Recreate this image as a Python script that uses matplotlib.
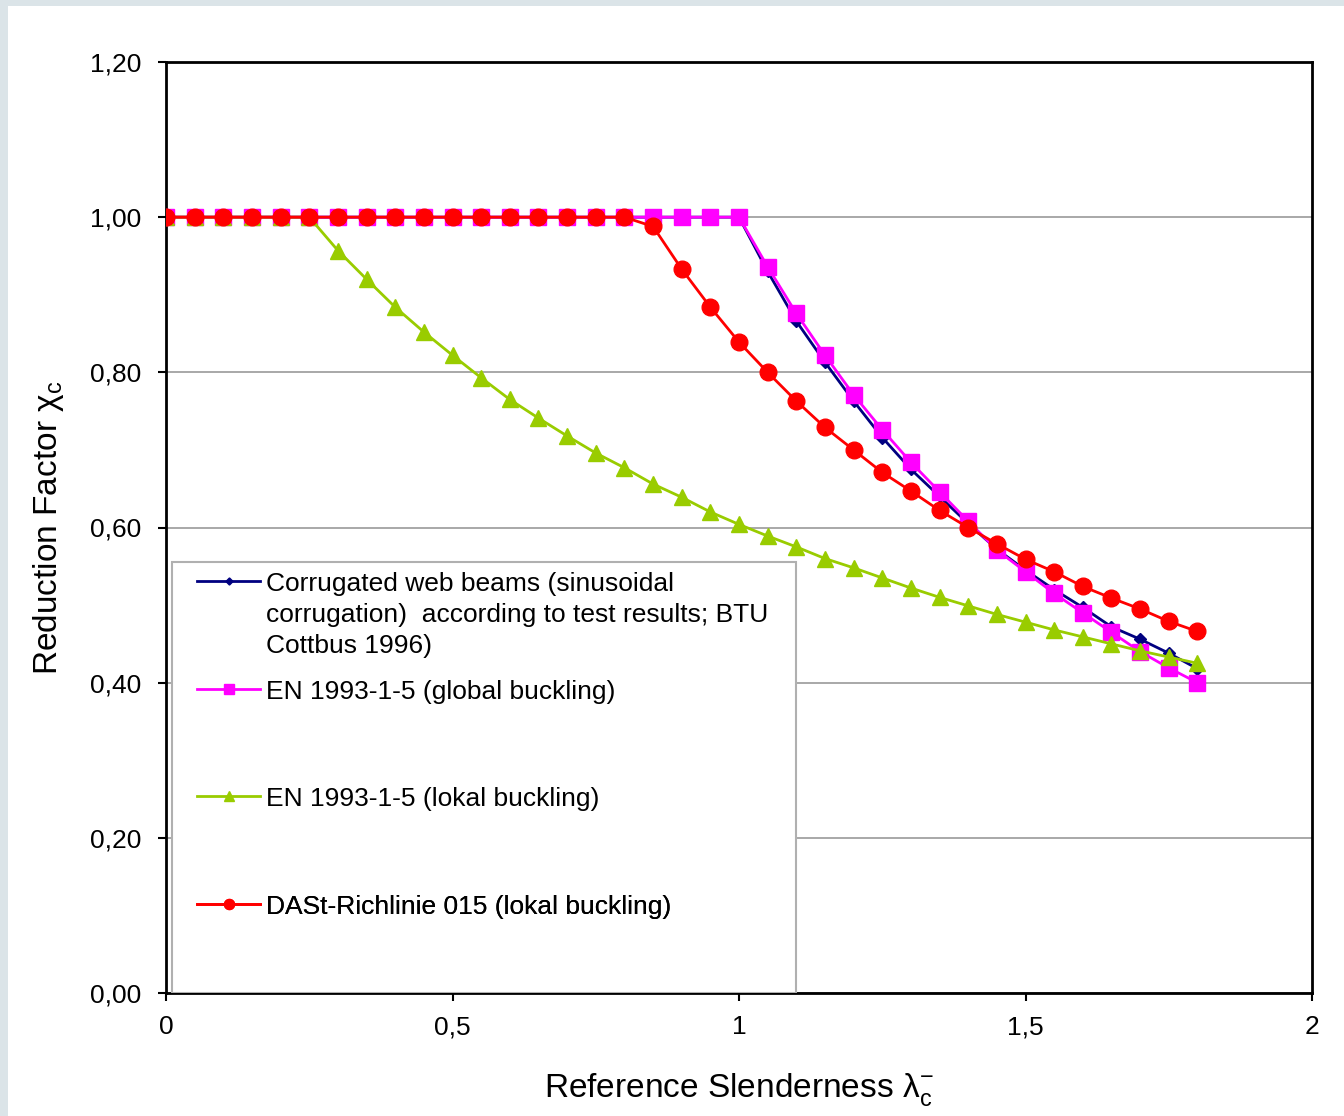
import numpy as np
import matplotlib
matplotlib.use("Agg")
import matplotlib.pyplot as plt
from matplotlib.ticker import FuncFormatter
from matplotlib.patches import Rectangle

plt.rcParams['font.family'] = ['Liberation Sans', 'DejaVu Sans']
plt.rcParams['mathtext.fontset'] = 'custom'
plt.rcParams['mathtext.rm'] = 'Liberation Sans'
plt.rcParams['mathtext.it'] = 'Liberation Sans'

# Reference slenderness (x values)
slenderness = [round(0.05 * i, 2) for i in range(37)]

# Corrugated web beams - test results BTU Cottbus 1996
corrugated = [1.0] * 21 + [0.930, 0.866, 0.813, 0.763, 0.716, 0.675, 0.640, 0.605,
                           0.572, 0.545, 0.520, 0.497, 0.472, 0.456, 0.438, 0.418]
# EN 1993-1-5 global buckling
en_global = [1.0] * 21 + [0.936, 0.876, 0.822, 0.771, 0.726, 0.684, 0.646, 0.608,
                          0.571, 0.543, 0.515, 0.490, 0.465, 0.440, 0.419, 0.400]
# EN 1993-1-5 lokal buckling
en_lokal = [1.0] * 6 + [0.957, 0.920, 0.884, 0.852, 0.822, 0.793, 0.765, 0.741,
                        0.718, 0.696, 0.677, 0.656, 0.639, 0.620, 0.604, 0.589,
                        0.575, 0.560, 0.548, 0.535, 0.522, 0.510, 0.499, 0.488,
                        0.478, 0.468, 0.459, 0.450, 0.441, 0.433, 0.425]
# DASt-Richtlinie 015 lokal buckling
dast = [1.0] * 17 + [0.988, 0.933, 0.884, 0.839, 0.800, 0.763, 0.729, 0.700,
                     0.671, 0.647, 0.622, 0.600, 0.579, 0.559, 0.543, 0.524,
                     0.509, 0.495, 0.479, 0.466]

labels = ['Corrugated web beams (sinusoidal\ncorrugation)  according to test results; BTU\nCottbus 1996)',
          'EN 1993-1-5 (global buckling)',
          'EN 1993-1-5 (lokal buckling)',
          'DASt-Richlinie 015 (lokal buckling)']

fig = plt.figure(figsize=(13.44, 11.16), dpi=100)
fig.patch.set_facecolor('white')
# screenshot border strips
fig.patches.append(Rectangle((0, 0), 8 / 1344, 1, transform=fig.transFigure,
                             facecolor='#dbe4e8', edgecolor='none', zorder=-1))
fig.patches.append(Rectangle((0, 1 - 6 / 1116), 1, 6 / 1116, transform=fig.transFigure,
                             facecolor='#dbe4e8', edgecolor='none', zorder=-1))
ax = fig.add_axes([166 / 1344, 1 - 993 / 1116, 1146 / 1344, 931 / 1116])

l1, = ax.plot(slenderness, corrugated, '-D', color='#000080', lw=2, ms=6, zorder=3)
l2, = ax.plot(slenderness, en_global, '-s', color='#ff00ff', lw=2, ms=12, zorder=4)
l3, = ax.plot(slenderness, en_lokal, '-^', color='#99cc00', lw=2, ms=12, zorder=5)
l4, = ax.plot(slenderness, dast, '-o', color='#ff0000', lw=2, ms=12, zorder=6)

ax.set_xlim(0, 2)
ax.set_ylim(0, 1.2)
ax.set_xticks([0, 0.5, 1, 1.5, 2])
ax.set_yticks(np.arange(0, 1.21, 0.2))
ax.xaxis.set_major_formatter(FuncFormatter(lambda v, p: ('%g' % v).replace('.', ',')))
ax.yaxis.set_major_formatter(FuncFormatter(lambda v, p: ('%.2f' % v).replace('.', ',')))
ax.tick_params(labelsize=19, length=6, width=1.5, direction='out')
ax.tick_params(axis='y', pad=12)
ax.tick_params(axis='x', pad=10)
ax.yaxis.grid(True, color='#9a9a9a', lw=1.2)
ax.set_axisbelow(True)
for s in ax.spines.values():
    s.set_linewidth(2)

ax.set_xlabel('Reference Slenderness λ$^{-}_{c}$', fontsize=24, labelpad=23)
ax.set_ylabel('Reduction Factor χ$_{c}$', fontsize=24, labelpad=17)

# legend box
ax.add_patch(Rectangle((6 / 1146, 0), 624 / 1146, 431 / 931, transform=ax.transAxes,
                       facecolor='white', edgecolor='#b0b0b0', lw=1.5, zorder=7))
ypos = [572, 692, 799, 907]
locs = ['upper left', 'center left', 'center left', 'center left']
for h, lab, yp, lc in zip([l1, l2, l3, l4], labels, ypos, locs):
    leg = ax.legend([h], [lab], loc=lc, bbox_to_anchor=(31 / 1146, (993 - yp) / 931),
                    frameon=False, fontsize=19, borderpad=0, borderaxespad=0,
                    handlelength=2.4, handletextpad=0.2, markerscale=0.6)
    leg.get_texts()[0].set_linespacing(1.38)
    # put the handle next to the first line of a multi-line label
    item = leg._legend_handle_box.get_children()[0].get_children()[0]
    item.align = 'top'
    leg.set_zorder(8)
    ax.add_artist(leg)

plt.savefig('out.png', dpi=100)
